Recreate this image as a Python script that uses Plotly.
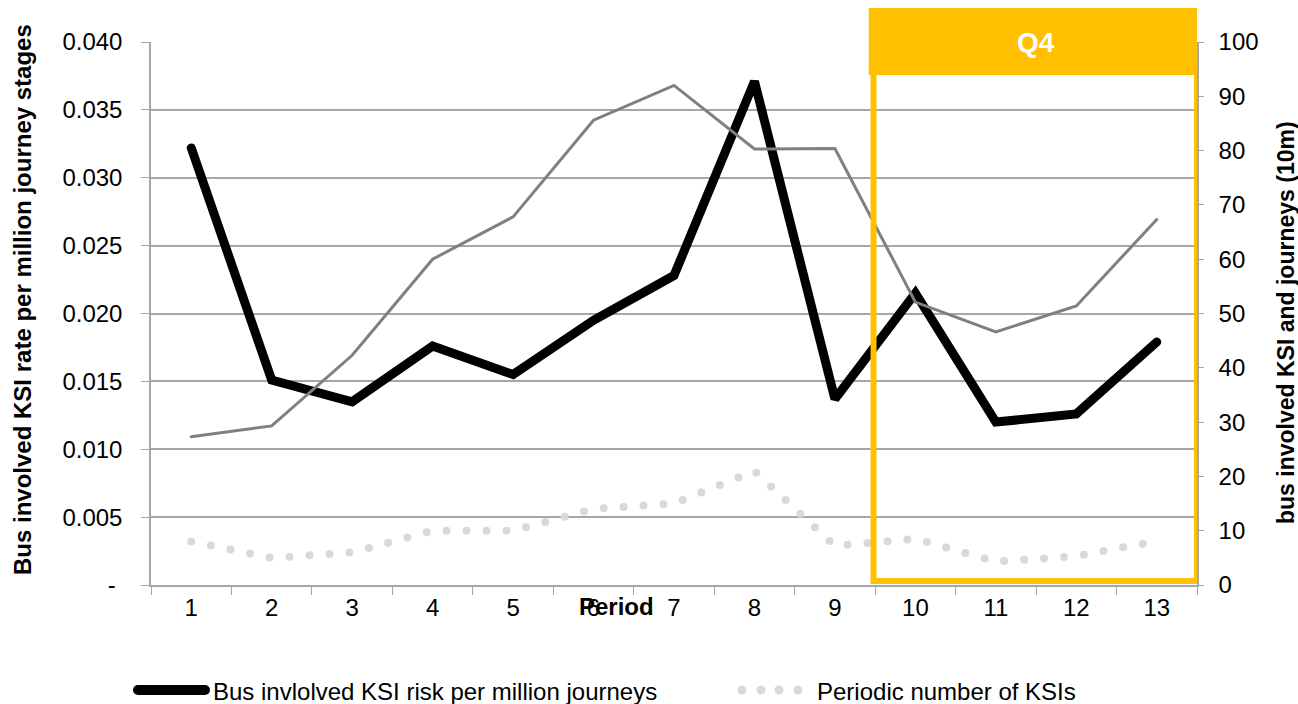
import plotly.graph_objects as go

# Periods of the year
periods = [str(i) for i in range(1, 14)]

# Bus involved KSI risk per million journeys (left axis)
risk = [0.0322, 0.0151, 0.0135, 0.0176, 0.0155, 0.0195, 0.0228,
        0.0371, 0.0137, 0.0215, 0.0120, 0.0126, 0.0179]

# Bus journeys, in tens of millions (right axis)
journeys = [27.3, 29.3, 42.3, 60.0, 67.8, 85.6, 92.0,
            80.3, 80.4, 52.1, 46.6, 51.4, 67.3]

# Periodic number of KSIs (right axis)
ksis = [8.0, 5.0, 6.0, 10.0, 10.0, 14.0, 15.0,
        21.0, 7.2, 8.5, 4.3, 5.3, 8.1]

left_ticks = [0, 0.005, 0.010, 0.015, 0.020, 0.025, 0.030, 0.035, 0.040]
left_labels = ["-\u00a0", "0.005", "0.010", "0.015", "0.020",
               "0.025", "0.030", "0.035", "0.040"]

FONT = "Liberation Sans, Arial, sans-serif"
AXIS_GREY = "#A6A6A6"
Q_GOLD = "#FFC000"

W, H = 1298, 704
L, R, T, B = 151, 101, 42, 119
PW, PH = W - L - R, H - T - B


def px(xp):
    return (xp - L) / PW


def py(yp):
    return (H - B - yp) / PH


fig = go.Figure()

fig.add_trace(go.Scatter(
    x=periods, y=risk, mode="lines", name="Bus invlolved KSI risk per million journeys",
    line=dict(color="black", width=9), yaxis="y", showlegend=False))

fig.add_trace(go.Scatter(
    x=periods, y=journeys, mode="lines", name="Bus journeys (10m)",
    line=dict(color="#808080", width=3), yaxis="y2", showlegend=False))

fig.add_trace(go.Scatter(
    x=periods, y=ksis, mode="lines", name="Periodic number of KSIs",
    line=dict(color="#D9D9D9", width=8, dash="0px,20px"), yaxis="y2",
    showlegend=False))

shapes = [
    # Q4 outline
    dict(type="rect", xref="x", yref="paper", x0=8.48, x1=12.5,
         y0=py(581), y1=py(60), line=dict(color=Q_GOLD, width=6),
         fillcolor="rgba(0,0,0,0)", layer="above"),
    # Q4 header band
    dict(type="rect", xref="x", yref="paper", x0=8.42, x1=12.58,
         y0=py(75), y1=py(8), line=dict(width=0), fillcolor=Q_GOLD,
         layer="above"),
    # legend sample: risk line
    dict(type="line", xref="paper", yref="paper", x0=px(138), x1=px(205),
         y0=py(690), y1=py(690), line=dict(color="black", width=10)),
]
# legend sample: dotted KSI line
for cx in [742, 761, 779, 798]:
    shapes.append(dict(type="circle", xref="paper", yref="paper",
                       xsizemode="pixel", ysizemode="pixel",
                       xanchor=px(cx), yanchor=py(690),
                       x0=-4.5, x1=4.5, y0=-4.5, y1=4.5,
                       fillcolor="#D9D9D9", line=dict(width=0)))

annotations = [
    dict(text="<b>Q4</b>", x=px(1036), y=py(42), xref="paper", yref="paper",
         showarrow=False, font=dict(size=28, color="white", family=FONT),
         xanchor="center", yanchor="middle"),
    dict(text="<b>Bus involved KSI rate per million journey stages</b>",
         x=px(22), y=py(300), xref="paper", yref="paper", textangle=-90,
         showarrow=False, font=dict(size=24, color="black", family=FONT),
         xanchor="center", yanchor="middle"),
    dict(text="<b>bus involved KSI and journeys (10m)</b>",
         x=px(1286), y=py(323), xref="paper", yref="paper", textangle=-90,
         showarrow=False, font=dict(size=23, color="black", family=FONT),
         xanchor="center", yanchor="middle"),
    dict(text="<b>Period</b>", x=px(616), y=py(606), xref="paper", yref="paper",
         showarrow=False, font=dict(size=24, color="black", family=FONT),
         xanchor="center", yanchor="middle"),
    dict(text="Bus invlolved KSI risk per million journeys", x=px(211), y=py(691),
         xref="paper", yref="paper", showarrow=False,
         font=dict(size=24, color="black", family=FONT),
         xanchor="left", yanchor="middle"),
    dict(text="Periodic number of KSIs", x=px(815), y=py(691),
         xref="paper", yref="paper", showarrow=False,
         font=dict(size=24, color="black", family=FONT),
         xanchor="left", yanchor="middle"),
]

fig.update_layout(
    width=W, height=H,
    margin=dict(l=L, r=R, t=T, b=B, autoexpand=False),
    paper_bgcolor="white", plot_bgcolor="white",
    font=dict(family=FONT, size=24, color="black"),
    showlegend=False,
    shapes=shapes,
    annotations=annotations,
    xaxis=dict(type="category", tickson="boundaries", ticks="outside",
               ticklen=8, tickcolor=AXIS_GREY, showline=True,
               linecolor=AXIS_GREY, linewidth=1.5, showgrid=False,
               tickfont=dict(size=24), range=[-0.5, 12.5]),
    yaxis=dict(range=[0, 0.04], tickvals=left_ticks, ticktext=left_labels,
               ticks="outside", ticklen=8, tickcolor=AXIS_GREY,
               showline=True, linecolor=AXIS_GREY, linewidth=1.5,
               showgrid=True, gridcolor=AXIS_GREY, gridwidth=1.5,
               zeroline=False, tickfont=dict(size=24), ticklabelstandoff=14),
    yaxis2=dict(range=[0, 100], dtick=10, overlaying="y", side="right",
                ticks="outside", ticklen=5, tickcolor=AXIS_GREY,
                showline=True, linecolor=AXIS_GREY, linewidth=1.5,
                showgrid=False, zeroline=False, tickfont=dict(size=24),
                ticklabelstandoff=10),
)

round_caps = (
    "var s=document.createElement('style');"
    "s.textContent='.js-line,.shapelayer path{stroke-linecap:round !important}';"
    "document.head.appendChild(s);"
)

fig.write_html("out.html", post_script=round_caps)
